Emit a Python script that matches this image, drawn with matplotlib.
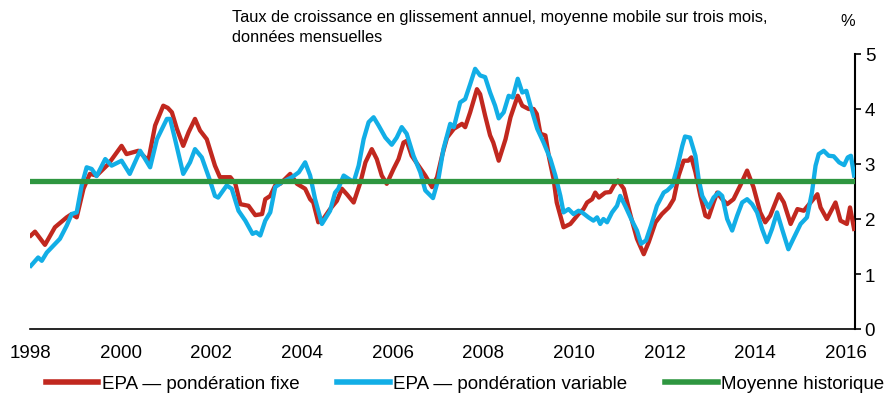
import numpy as np
import matplotlib.pyplot as plt

plt.rcParams['font.family'] = ['Liberation Sans', 'DejaVu Sans']

# EPA, ponderation fixe (taux de croissance, %)
fixe_x = [1998.02, 1998.11, 1998.33, 1998.55, 1998.81, 1998.92, 1999.03, 1999.18, 1999.32, 1999.47,
          1999.73, 2000.02, 2000.13, 2000.39, 2000.61, 2000.76, 2000.94, 2001.04, 2001.13, 2001.24,
          2001.38, 2001.50, 2001.64, 2001.75, 2001.90, 2002.08, 2002.19, 2002.42, 2002.53, 2002.64,
          2002.82, 2002.97, 2003.12, 2003.19, 2003.30, 2003.41, 2003.52, 2003.74, 2003.89, 2004.07,
          2004.18, 2004.25, 2004.36, 2004.47, 2004.62, 2004.77, 2004.88, 2004.99, 2005.14, 2005.29,
          2005.40, 2005.54, 2005.65, 2005.76, 2005.87, 2006.02, 2006.13, 2006.24, 2006.31, 2006.42,
          2006.57, 2006.72, 2006.87, 2006.98, 2007.09, 2007.20, 2007.35, 2007.53, 2007.60, 2007.71,
          2007.86, 2007.93, 2008.04, 2008.15, 2008.22, 2008.34, 2008.49, 2008.60, 2008.76, 2008.86,
          2009.00, 2009.11, 2009.18, 2009.26, 2009.37, 2009.45, 2009.55, 2009.62, 2009.77, 2009.92,
          2010.10, 2010.21, 2010.29, 2010.40, 2010.47, 2010.55, 2010.69, 2010.80, 2010.88, 2010.97,
          2011.10, 2011.25, 2011.39, 2011.54, 2011.65, 2011.80, 2011.94, 2012.09, 2012.20, 2012.31,
          2012.42, 2012.52, 2012.59, 2012.68, 2012.79, 2012.90, 2012.97, 2013.08, 2013.16, 2013.27,
          2013.38, 2013.52, 2013.67, 2013.82, 2013.96, 2014.11, 2014.22, 2014.33, 2014.52, 2014.63,
          2014.78, 2014.93, 2015.07, 2015.22, 2015.37, 2015.44, 2015.58, 2015.77, 2015.88, 2016.02,
          2016.09, 2016.18]
fixe_y = [1.70, 1.77, 1.53, 1.85, 2.03, 2.09, 2.03, 2.55, 2.82, 2.79,
          3.00, 3.33, 3.18, 3.24, 3.06, 3.70, 4.06, 4.02, 3.94, 3.64,
          3.33, 3.58, 3.82, 3.61, 3.45, 2.97, 2.76, 2.76, 2.64, 2.27,
          2.24, 2.07, 2.09, 2.36, 2.42, 2.61, 2.64, 2.82, 2.64, 2.55,
          2.36, 2.30, 1.94, 2.00, 2.18, 2.33, 2.55, 2.45, 2.30, 2.67,
          3.03, 3.27, 3.09, 2.79, 2.64, 2.91, 3.09, 3.39, 3.42, 3.15,
          2.97, 2.79, 2.58, 2.76, 3.15, 3.48, 3.64, 3.73, 3.67, 3.94,
          4.36, 4.27, 3.88, 3.52, 3.39, 3.06, 3.45, 3.85, 4.24, 4.06,
          4.00, 4.00, 3.91, 3.55, 3.52, 3.12, 2.73, 2.30, 1.85, 1.91,
          2.09, 2.18, 2.30, 2.36, 2.48, 2.39, 2.48, 2.49, 2.61, 2.70,
          2.55, 2.06, 1.64, 1.36, 1.58, 1.94, 2.09, 2.21, 2.36, 2.79,
          3.06, 3.06, 3.12, 2.85, 2.42, 2.06, 2.03, 2.30, 2.48, 2.36,
          2.27, 2.36, 2.61, 2.88, 2.58, 2.12, 1.94, 2.06, 2.45, 2.30,
          1.91, 2.18, 2.15, 2.30, 2.45, 2.21, 2.00, 2.30, 1.97, 1.91,
          2.21, 1.82]

# EPA, ponderation variable
variable_x = [1998.02, 1998.18, 1998.26, 1998.37, 1998.66, 1998.81, 1998.92, 1999.03, 1999.14, 1999.25,
              1999.36, 1999.47, 1999.66, 1999.80, 2000.02, 2000.20, 2000.43, 2000.65, 2000.80, 2001.02,
              2001.09, 2001.20, 2001.31, 2001.38, 2001.53, 2001.64, 2001.79, 2001.97, 2002.08, 2002.15,
              2002.34, 2002.45, 2002.60, 2002.75, 2002.91, 2002.99, 2003.08, 2003.19, 2003.30, 2003.41,
              2003.56, 2003.78, 2003.93, 2004.07, 2004.18, 2004.29, 2004.44, 2004.62, 2004.73, 2004.80,
              2004.92, 2005.03, 2005.14, 2005.25, 2005.36, 2005.47, 2005.58, 2005.69, 2005.84, 2005.98,
              2006.09, 2006.20, 2006.31, 2006.46, 2006.61, 2006.72, 2006.89, 2007.01, 2007.12, 2007.27,
              2007.35, 2007.49, 2007.60, 2007.71, 2007.82, 2007.93, 2008.04, 2008.15, 2008.26, 2008.34,
              2008.45, 2008.56, 2008.65, 2008.76, 2008.86, 2008.95, 2009.04, 2009.19, 2009.33, 2009.48,
              2009.59, 2009.70, 2009.77, 2009.88, 2009.99, 2010.10, 2010.18, 2010.32, 2010.43, 2010.51,
              2010.58, 2010.65, 2010.73, 2010.84, 2010.95, 2011.02, 2011.13, 2011.28, 2011.39, 2011.48,
              2011.59, 2011.70, 2011.83, 2011.98, 2012.06, 2012.17, 2012.28, 2012.39, 2012.45, 2012.56,
              2012.68, 2012.75, 2012.83, 2012.97, 2013.08, 2013.19, 2013.27, 2013.38, 2013.49, 2013.60,
              2013.71, 2013.82, 2013.93, 2014.04, 2014.15, 2014.26, 2014.37, 2014.48, 2014.59, 2014.73,
              2014.84, 2015.00, 2015.14, 2015.25, 2015.33, 2015.40, 2015.51, 2015.62, 2015.73, 2015.85,
              2015.96, 2016.04, 2016.11, 2016.18]
variable_y = [1.15, 1.30, 1.24, 1.39, 1.64, 1.88, 2.09, 2.12, 2.61, 2.94,
              2.91, 2.78, 3.09, 2.97, 3.06, 2.82, 3.24, 2.94, 3.45, 3.82,
              3.82, 3.45, 3.06, 2.82, 3.03, 3.27, 3.12, 2.70, 2.42, 2.39,
              2.61, 2.55, 2.15, 1.97, 1.73, 1.76, 1.70, 1.97, 2.12, 2.58,
              2.67, 2.76, 2.85, 3.03, 2.79, 2.36, 1.91, 2.15, 2.48, 2.55,
              2.79, 2.73, 2.67, 2.97, 3.45, 3.76, 3.85, 3.70, 3.48, 3.35,
              3.48, 3.67, 3.55, 3.15, 2.85, 2.52, 2.38, 2.73, 3.27, 3.73,
              3.67, 4.12, 4.18, 4.45, 4.73, 4.61, 4.58, 4.30, 4.06, 3.83,
              3.94, 4.24, 4.21, 4.55, 4.30, 4.33, 4.06, 3.64, 3.39, 3.09,
              2.79, 2.42, 2.12, 2.18, 2.09, 2.15, 2.12, 2.03, 1.97, 2.03,
              1.91, 2.00, 1.94, 2.12, 2.24, 2.42, 2.24, 1.97, 1.79, 1.55,
              1.61, 1.88, 2.24, 2.48, 2.52, 2.61, 2.94, 3.33, 3.50, 3.48,
              3.15, 2.73, 2.42, 2.21, 2.39, 2.48, 2.42, 2.00, 1.79, 2.06,
              2.30, 2.36, 2.27, 2.12, 1.82, 1.58, 1.82, 2.12, 1.82, 1.45,
              1.64, 1.91, 2.03, 2.48, 2.97, 3.18, 3.24, 3.15, 3.14, 3.03,
              2.98, 3.12, 3.15, 2.79]

moyenne = 2.70
years = list(range(1998, 2017, 2))

fig = plt.figure(figsize=(8.91, 4.02), dpi=100)
ax = fig.add_axes([30/891, 1 - 330/402, 825/891, 275/402])

ax.plot(fixe_x, fixe_y, color='#C1281F', lw=3.1, solid_joinstyle='round', zorder=3)
ax.plot(variable_x, variable_y, color='#12AEE6', lw=3.1, solid_joinstyle='round', zorder=3)
ax.axhline(moyenne, color='#2E9640', lw=3.8, zorder=4)

ax.set_xlim(1998.0, 2016.2)
ax.set_ylim(0, 5)
ax.set_xticks(years)
ax.set_xticklabels([str(y) for y in years])
ax.tick_params(axis='x', length=0, pad=11, labelsize=13.5)
ax.yaxis.tick_right()
ax.set_yticks(range(0, 6))
ax.tick_params(axis='y', direction='out', length=4, width=1.2, pad=3, labelsize=13.5)
for s in ['top', 'left']:
    ax.spines[s].set_visible(False)
ax.spines['bottom'].set_linewidth(1.2)
ax.spines['right'].set_linewidth(1.5)

fig.text(232/891, 1 - 10/402, 'Taux de croissance en glissement annuel, moyenne mobile sur trois mois,\ndonnées mensuelles',
         ha='left', va='top', fontsize=11.8, linespacing=1.45)
fig.text(848/891, 1 - 14/402, '%', ha='center', va='top', fontsize=11.8)

from matplotlib.lines import Line2D
handles = [Line2D([], [], color='#C1281F', lw=4),
           Line2D([], [], color='#12AEE6', lw=4),
           Line2D([], [], color='#2E9640', lw=4)]
labels = ['EPA — pondération fixe', 'EPA — pondération variable', 'Moyenne historique']
fig.legend(handles, labels, loc='lower center', bbox_to_anchor=(0.522, -0.02), ncol=3, frameon=False,
           fontsize=13.5, handlelength=2.8, handletextpad=0.2, columnspacing=2.0)

fig.savefig('out.png', dpi=100)
